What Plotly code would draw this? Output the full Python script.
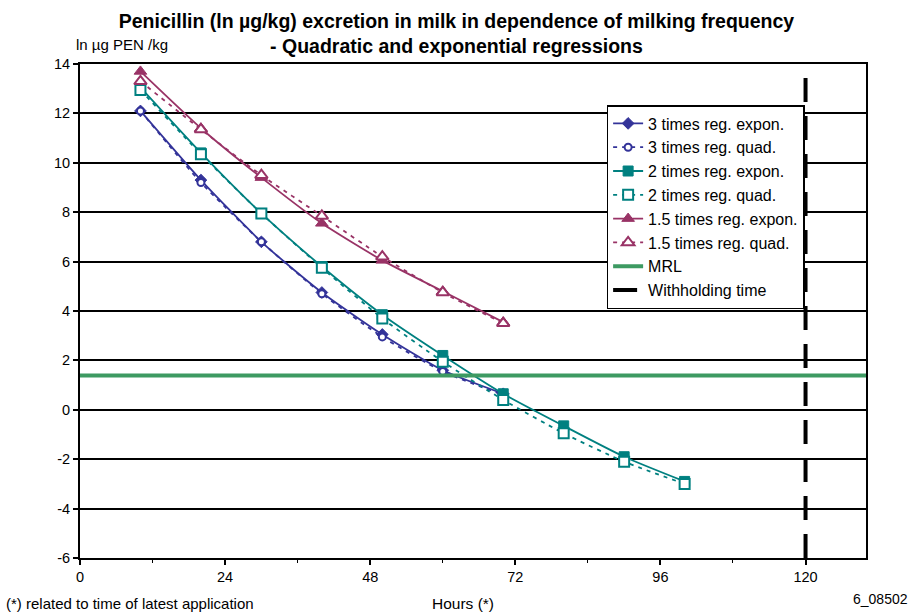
import plotly.graph_objects as go

# Hours after the latest application at which milk samples were taken
hours_3x = [10, 20, 30, 40, 50, 60, 70]
hours_2x = [10, 20, 30, 40, 50, 60, 70, 80, 90, 100]
hours_15x = [10, 20, 30, 40, 50, 60, 70]

# ln(µg penicillin / kg milk), fitted values per milking frequency
expon_3x = [12.1, 9.3, 6.8, 4.75, 3.05, 1.6, 0.65]
quad_3x = [12.1, 9.2, 6.8, 4.7, 2.95, 1.55, 0.6]
expon_2x = [13.05, 10.4, 7.95, 5.8, 3.85, 2.2, 0.65, -0.65, -1.9, -2.9]
quad_2x = [12.95, 10.35, 7.95, 5.75, 3.7, 1.95, 0.4, -0.95, -2.1, -3.0]
expon_15x = [13.7, 11.4, 9.4, 7.55, 6.05, 4.8, 3.55]
quad_15x = [13.3, 11.35, 9.5, 7.85, 6.2, 4.75, 3.5]

# Maximum residue limit (ln 4 µg/kg) and withholding time (h)
mrl_value = 1.386
withholding_hours = 120

x_ticks = [0, 24, 48, 72, 96, 120]
y_ticks = [-6, -4, -2, 0, 2, 4, 6, 8, 10, 12, 14]

BLUE = "#333399"
TEAL = "#008080"
PURPLE = "#993366"
GREEN = "#3d9a62"
FONT = "Liberation Sans, Arial, sans-serif"
DASH = "4px,5px"

fig = go.Figure()


def add_pair(name, hours, expon, quad, color, filled_symbol, open_symbol, fsize, osize):
    fig.add_trace(go.Scatter(
        x=hours, y=expon, name=f"{name} reg. expon.", mode="lines+markers",
        line=dict(color=color, width=1.8, shape="spline", smoothing=0.6),
        marker=dict(symbol=filled_symbol, size=fsize, color=color,
                    line=dict(color=color, width=1)),
    ))
    fig.add_trace(go.Scatter(
        x=hours, y=quad, name=f"{name} reg. quad.", mode="lines+markers",
        line=dict(color=color, width=1.8, dash=DASH, shape="spline", smoothing=0.6),
        marker=dict(symbol=open_symbol, size=osize, color="white",
                    line=dict(color=color, width=2)),
    ))


add_pair("3 times", hours_3x, expon_3x, quad_3x, BLUE, "diamond", "circle", 9, 7)
add_pair("2 times", hours_2x, expon_2x, quad_2x, TEAL, "square", "square", 10, 10)
add_pair("1.5 times", hours_15x, expon_15x, quad_15x, PURPLE, "triangle-up", "triangle-up", 11, 11)

fig.add_trace(go.Scatter(
    x=[0, 130.5], y=[mrl_value, mrl_value], name="MRL", mode="lines",
    line=dict(color=GREEN, width=4), cliponaxis=False,
))
fig.add_trace(go.Scatter(
    x=[withholding_hours, withholding_hours], y=[-6, 14], name="Withholding time",
    mode="lines", line=dict(color="black", width=4, dash="24px,14px"),
))

fig.update_layout(
    width=913, height=614,
    margin=dict(l=80, r=47, t=64, b=56),
    paper_bgcolor="white", plot_bgcolor="white",
    font=dict(family=FONT, size=14, color="black"),
    title=dict(
        text="<b>Penicillin (ln µg/kg) excretion in milk in dependence of milking frequency"
             "<br>- Quadratic and exponential regressions</b>",
        x=0.5, xanchor="center", xref="container", y=0.9545, yanchor="middle",
        font=dict(family=FONT, size=19.5, color="black"),
    ),
    showlegend=True,
    legend=dict(
        x=0.67, y=0.917, xanchor="left", yanchor="top",
        bgcolor="white", bordercolor="black", borderwidth=1.5,
        font=dict(family=FONT, size=16, color="black"),
        tracegroupgap=0,
    ),
    xaxis=dict(
        range=[0, 130], tickvals=x_ticks, ticktext=[str(v) for v in x_ticks],
        ticks="outside", ticklen=5, tickwidth=1.5, tickcolor="black",
        minor=dict(tick0=0, dtick=12, ticks="outside", ticklen=3, tickcolor="black", tickwidth=1),
        showgrid=False, zeroline=False,
        showline=True, linecolor="black", linewidth=2, mirror=True,
        tickfont=dict(family=FONT, size=14.5), fixedrange=True,
    ),
    yaxis=dict(
        range=[-6, 14], tickvals=y_ticks, ticktext=[str(v) for v in y_ticks],
        ticks="outside", ticklen=5, tickwidth=1.5, tickcolor="black",
        showgrid=True, gridcolor="black", gridwidth=1.5, zeroline=False,
        showline=True, linecolor="black", linewidth=2, mirror=True,
        tickfont=dict(family=FONT, size=14.5), fixedrange=True,
    ),
)

fig.add_annotation(
    text="ln µg PEN /kg", xref="paper", yref="paper", x=-0.007, y=1.04,
    xanchor="left", yanchor="middle", showarrow=False,
    font=dict(family=FONT, size=15, color="black"),
)
fig.add_annotation(
    text="Hours (*)", xref="paper", yref="paper", x=0.487, y=-0.092,
    xanchor="center", yanchor="middle", showarrow=False,
    font=dict(family=FONT, size=15.5, color="black"),
)
fig.add_annotation(
    text="(*) related to time of latest application", xref="paper", yref="paper",
    x=-0.097, y=-0.092, xanchor="left", yanchor="middle", showarrow=False,
    font=dict(family=FONT, size=15, color="black"),
)
fig.add_annotation(
    text="6_08502", xref="paper", yref="paper", x=1.056, y=-0.082,
    xanchor="right", yanchor="middle", showarrow=False,
    font=dict(family=FONT, size=14, color="black"),
)

fig.write_html("out.html")
